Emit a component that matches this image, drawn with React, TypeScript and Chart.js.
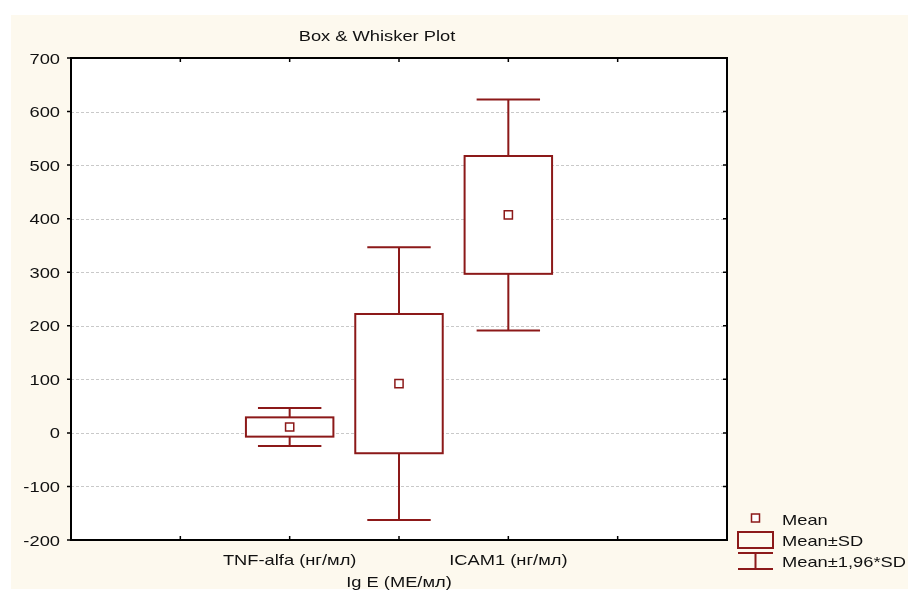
import { useEffect, useRef } from "react";
import { Chart, registerables } from "chart.js";

Chart.register(...registerables);

// Groups shown along the x axis, their slot on the 0..6 axis, and which label row they use
const categories = ["TNF-alfa (нг/мл)", "Ig E (МЕ/мл)", "ICAM1 (нг/мл)"];
const positions = [2, 3, 4];
const labelRows = [0, 1, 0];

// Summary statistics per group
const means = [11, 92, 407];
const sds = [18, 130, 110];

// Axis ticks
const yTicks = [-200, -100, 0, 100, 200, 300, 400, 500, 600, 700];
const xTicks = [1, 2, 3, 4, 5];

const legendLabels = ["Mean", "Mean±SD", "Mean±1,96*SD"];
const title = "Box & Whisker Plot";

const RED = "#8c1919";
const INK = "#111111";
const CREAM = "#fdf9ee";
const FONT = "15px 'Liberation Sans', Arial, sans-serif";
const STRETCH = 1.22;

function drawText(
  ctx: CanvasRenderingContext2D,
  text: string,
  x: number,
  y: number,
  align: "left" | "center" | "right"
) {
  ctx.save();
  ctx.font = FONT;
  ctx.fillStyle = INK;
  ctx.textBaseline = "alphabetic";
  ctx.textAlign = "left";
  const w = ctx.measureText(text).width * STRETCH;
  const left = align === "left" ? x : align === "center" ? x - w / 2 : x - w;
  ctx.translate(left, y);
  ctx.scale(STRETCH, 1);
  ctx.fillText(text, 0, 0);
  ctx.restore();
}

const boxPlugin = {
  id: "boxWhisker",
  beforeDraw(chart: any) {
    const { ctx, chartArea: a, width, height } = chart;
    ctx.save();
    ctx.fillStyle = "#ffffff";
    ctx.fillRect(0, 0, width, height);
    ctx.fillStyle = CREAM;
    ctx.fillRect(11, 15, width - 11, height - 16);
    ctx.fillStyle = "#ffffff";
    ctx.fillRect(a.left, a.top, a.right - a.left, a.bottom - a.top);
    ctx.restore();
  },
  beforeDatasetsDraw(chart: any) {
    const { ctx, chartArea: a, scales } = chart;
    const xs = scales.x;
    const ys = scales.y;
    ctx.save();
    // dashed horizontal grid
    ctx.strokeStyle = "#c9c9c9";
    ctx.lineWidth = 1;
    ctx.setLineDash([3, 2]);
    yTicks.forEach((v) => {
      const y = Math.round(ys.getPixelForValue(v)) + 0.5;
      ctx.beginPath();
      ctx.moveTo(a.left, y);
      ctx.lineTo(a.right, y);
      ctx.stroke();
    });
    ctx.setLineDash([]);

    // boxes (mean ± SD) and whiskers (mean ± 1.96·SD)
    ctx.strokeStyle = RED;
    ctx.lineWidth = 2;
    positions.forEach((p, i) => {
      const cx = xs.getPixelForValue(p);
      const bl = xs.getPixelForValue(p - 0.4);
      const br = xs.getPixelForValue(p + 0.4);
      const cl = xs.getPixelForValue(p - 0.29);
      const cr = xs.getPixelForValue(p + 0.29);
      const bTop = ys.getPixelForValue(means[i] + sds[i]);
      const bBot = ys.getPixelForValue(means[i] - sds[i]);
      const wTop = ys.getPixelForValue(means[i] + 1.96 * sds[i]);
      const wBot = ys.getPixelForValue(means[i] - 1.96 * sds[i]);

      ctx.beginPath();
      ctx.moveTo(cx, bTop);
      ctx.lineTo(cx, wTop);
      ctx.moveTo(cl, wTop);
      ctx.lineTo(cr, wTop);
      ctx.moveTo(cx, bBot);
      ctx.lineTo(cx, wBot);
      ctx.moveTo(cl, wBot);
      ctx.lineTo(cr, wBot);
      ctx.stroke();

      ctx.fillStyle = "#ffffff";
      ctx.fillRect(bl, bTop, br - bl, bBot - bTop);
      ctx.strokeRect(bl, bTop, br - bl, bBot - bTop);
    });
    ctx.restore();
  },
  afterDatasetsDraw(chart: any) {
    const { ctx, chartArea: a, scales } = chart;
    const xs = scales.x;
    const ys = scales.y;
    ctx.save();
    // frame
    ctx.strokeStyle = "#000000";
    ctx.lineWidth = 2;
    ctx.strokeRect(a.left, a.top, a.right - a.left, a.bottom - a.top);

    // tick marks
    ctx.lineWidth = 1.5;
    ctx.beginPath();
    yTicks.forEach((v) => {
      const y = ys.getPixelForValue(v);
      ctx.moveTo(a.left - 4, y);
      ctx.lineTo(a.left, y);
      ctx.moveTo(a.right - 4, y);
      ctx.lineTo(a.right, y);
    });
    xTicks.forEach((v) => {
      const x = xs.getPixelForValue(v);
      ctx.moveTo(x, a.top);
      ctx.lineTo(x, a.top + 4);
      ctx.moveTo(x, a.bottom);
      ctx.lineTo(x, a.bottom - 4);
    });
    ctx.stroke();

    // y tick labels
    yTicks.forEach((v) => {
      drawText(ctx, String(v), a.left - 11, ys.getPixelForValue(v) + 5.5, "right");
    });

    // category labels, alternating rows
    categories.forEach((c, i) => {
      const x = xs.getPixelForValue(positions[i]);
      drawText(ctx, c, x, a.bottom + 25 + labelRows[i] * 22, "center");
    });

    // title
    drawText(ctx, title, (a.left + a.right) / 2 - 22, 41, "center");

    // legend
    const lx = 738;
    const lw = 35;
    const mx = lx + lw / 2;
    ctx.strokeStyle = RED;
    ctx.lineWidth = 1.5;
    ctx.fillStyle = "#ffffff";
    ctx.fillRect(mx - 4, 514, 8, 8);
    ctx.strokeRect(mx - 4, 514, 8, 8);
    ctx.lineWidth = 2;
    ctx.strokeRect(lx, 532, lw, 16);
    ctx.beginPath();
    ctx.moveTo(lx, 553);
    ctx.lineTo(lx + lw, 553);
    ctx.moveTo(lx, 569);
    ctx.lineTo(lx + lw, 569);
    ctx.moveTo(mx, 553);
    ctx.lineTo(mx, 569);
    ctx.stroke();
    drawText(ctx, legendLabels[0], 782, 525, "left");
    drawText(ctx, legendLabels[1], 782, 546, "left");
    drawText(ctx, legendLabels[2], 782, 567, "left");
    ctx.restore();
  },
};

export default function App() {
  const canvasRef = useRef<HTMLCanvasElement | null>(null);

  useEffect(() => {
    const canvas = canvasRef.current;
    if (!canvas) return;
    const chart = new Chart(canvas, {
      type: "scatter",
      data: {
        datasets: [
          {
            label: "Mean",
            data: positions.map((x, i) => ({ x, y: means[i] })),
            pointStyle: "rect",
            pointRadius: 5.8,
            pointBackgroundColor: "#ffffff",
            pointBorderColor: RED,
            pointBorderWidth: 1.5,
          },
        ],
      },
      options: {
        animation: false,
        responsive: false,
        devicePixelRatio: 1,
        events: [],
        layout: { padding: { left: 71, top: 58, right: 181, bottom: 50 } },
        scales: {
          x: { type: "linear", min: 0, max: 6, display: false },
          y: { type: "linear", min: -200, max: 700, display: false },
        },
        plugins: {
          legend: { display: false },
          tooltip: { enabled: false },
          title: { display: false },
        },
      },
      plugins: [boxPlugin],
    });
    return () => chart.destroy();
  }, []);

  return (
    <div style={{ position: "absolute", left: 0, top: 0, width: 908, height: 590 }}>
      <canvas ref={canvasRef} width={908} height={590} style={{ width: 908, height: 590 }} />
    </div>
  );
}
